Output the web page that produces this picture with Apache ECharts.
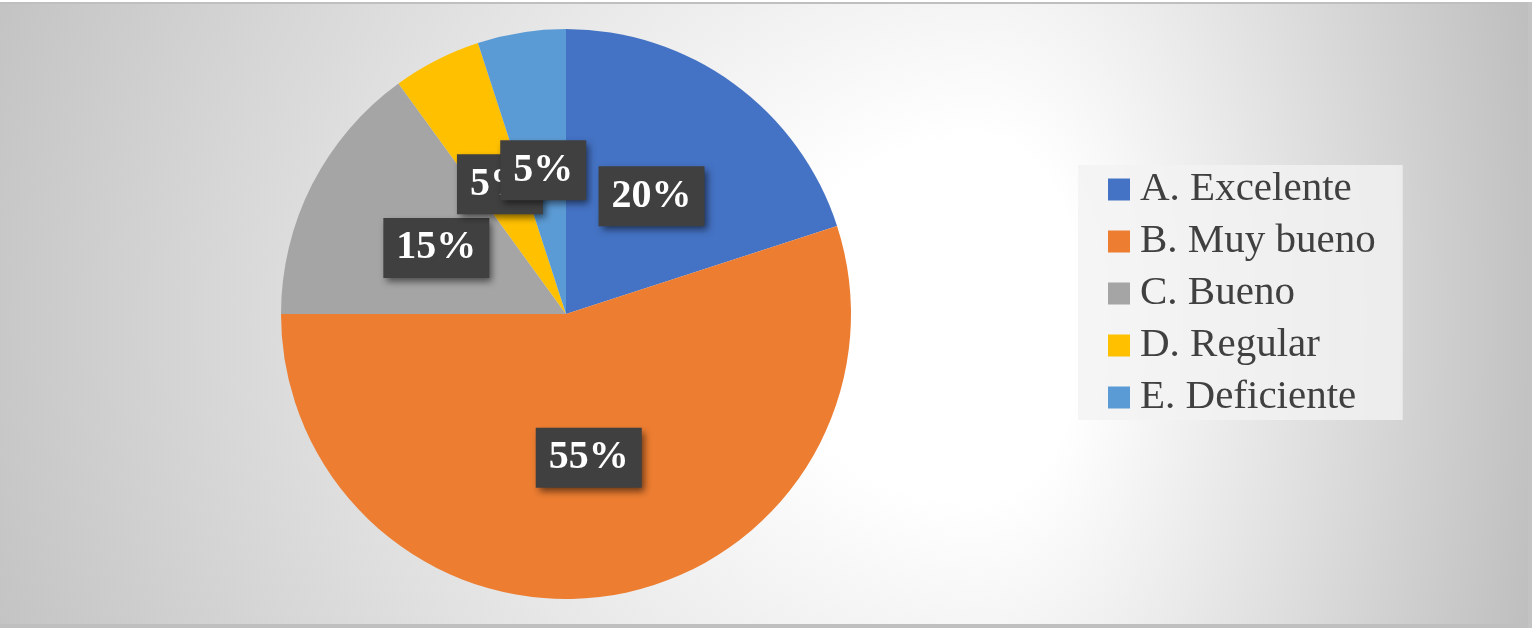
<!DOCTYPE html>
<html>
<head>
<meta charset="utf-8">
<script src="https://cdn.jsdelivr.net/npm/echarts@6/dist/echarts.min.js"></script>
<style>
  html, body { margin: 0; padding: 0; background: #fff; }
  #chart { width: 1539px; height: 634px; }
</style>
</head>
<body>
<div id="chart"></div>
<script>
var categories = ['A. Excelente', 'B. Muy bueno', 'C. Bueno', 'D. Regular', 'E. Deficiente'];
var values = [20, 55, 15, 5, 5];
var colors = ['#4472C4', '#ED7D31', '#A5A5A5', '#FFC000', '#5B9BD5'];

var serif = '"Liberation Serif", "Times New Roman", serif';
var chart = echarts.init(document.getElementById('chart'), null, { renderer: 'canvas' });

// fondo: degradado radial descentrado (blanco cerca de x=980, gris en los bordes)
var cx = 980, cy = 320, R = 400;
var sL = 2.8, sR = 1.45, sy = 2.5;
var bgFill = {
  type: 'radial', x: cx, y: cy, r: R, global: true,
  colorStops: [
    { offset: 0, color: '#ffffff' },
    { offset: 0.18, color: '#ffffff' },
    { offset: 1, color: '#bebebe' }
  ]
};
function bgRect(left) {
  var s = left ? sL : sR;
  var w = left ? cx / s + 1 : (1532 - cx) / s;
  return {
    type: 'rect', z: -10, silent: true,
    originX: cx, originY: cy, scaleX: s, scaleY: sy,
    shape: { x: left ? cx - cx / s : cx, y: cy - (cy - 2) / sy, width: w, height: 626 / sy },
    style: { fill: bgFill }
  };
}

var option = {
  animation: false,
  graphic: [
    bgRect(true),
    bgRect(false),
    { type: 'rect', z: -9, silent: true, shape: { x: 0, y: 2, width: 1532, height: 2 }, style: { fill: '#bfbfbf' } },
    { type: 'rect', z: -9, silent: true, shape: { x: 0, y: 624, width: 1532, height: 4 }, style: { fill: '#bfbfbf' } },
    { type: 'rect', z: -9, silent: true, shape: { x: 1528, y: 2, width: 4, height: 626 }, style: { fill: '#c3c3c3' } }
  ],
  legend: {
    orient: 'vertical',
    left: 1078,
    top: 165,
    padding: [4, 27, 2, 30],
    backgroundColor: 'rgba(242,242,242,0.8)',
    itemWidth: 22,
    itemHeight: 22,
    itemGap: 11,
    icon: 'rect',
    selectedMode: false,
    data: categories,
    textStyle: {
      fontFamily: serif,
      fontSize: 41,
      color: '#404040',
      padding: [0, 0, 0, 5]
    }
  },
  series: [{
    type: 'pie',
    center: [566, 314],
    radius: 285,
    startAngle: 90,
    clockwise: true,
    silent: true,
    avoidLabelOverlap: false,
    labelLayout: { hideOverlap: false },
    data: categories.map(function (c, i) {
      return { name: c, value: values[i], itemStyle: { color: colors[i] } };
    }),
    label: {
      show: true,
      position: 'inside',
      formatter: '{d}%',
      fontFamily: serif,
      fontWeight: 'bold',
      fontSize: 40,
      lineHeight: 40,
      color: '#ffffff',
      backgroundColor: '#404040',
      padding: [10, 13],
      shadowColor: 'rgba(0,0,0,0.55)',
      shadowBlur: 7,
      shadowOffsetX: 3,
      shadowOffsetY: 4
    },
    labelLine: { show: false }
  }]
};

chart.setOption(option);
</script>
</body>
</html>
